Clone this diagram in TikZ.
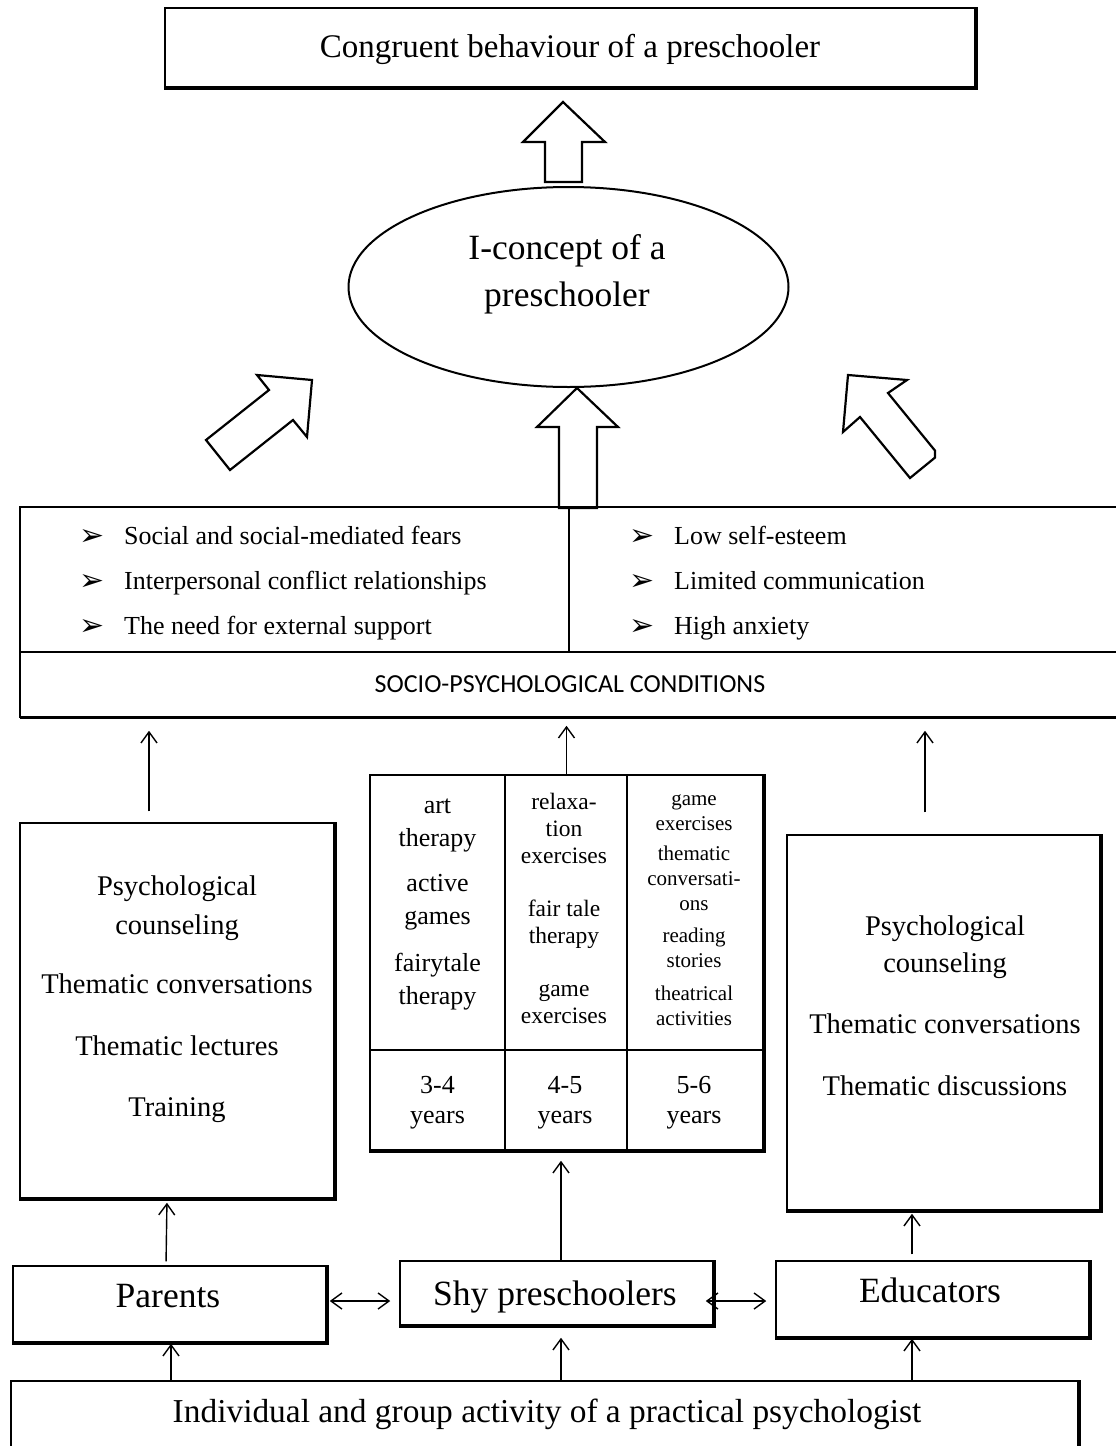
\documentclass[tikz,border=0pt]{standalone}
\usepackage{fontspec}
\setmainfont{Liberation Serif}
\newfontfamily\sansf{Carlito}
\newfontfamily\symf{DejaVu Sans}
\usetikzlibrary{arrows.meta,calc,shapes.geometric}
\newcommand\fsz[2]{\fontsize{#1}{#2}\selectfont}
\newcommand\stk[1]{\begin{tabular}[t]{@{}c@{}}#1\end{tabular}}
\newcommand\boxshadow[1]{\draw[line width=2.6pt] ([yshift=-0.6pt]#1.south west) -- ([xshift=0.6pt,yshift=-0.6pt]#1.south east) -- ([xshift=0.6pt]#1.north east);}
\begin{document}
\begin{tikzpicture}[x=1pt,y=-1pt,
  box/.style={draw, line width=1.5pt, inner sep=0pt, fill=white},
  txt/.style={anchor=base, inner sep=0pt, align=center},
  ltxt/.style={anchor=base west, inner sep=0pt},
  arr/.style={line width=1.4pt, -{Straight Barb[length=11pt,width=16pt]}},
  darr/.style={line width=1.4pt, {Straight Barb[length=11pt,width=16pt]}-{Straight Barb[length=11pt,width=16pt]}},
  blk/.style={draw, line width=2.2pt, fill=white, line join=miter},
  bul/.style={anchor=base, inner sep=0pt, font=\symf\fsz{30}{30}}]
\path[use as bounding box] (0,0) rectangle (1116,1446);
\clip (0,0) rectangle (1116,1446);

% top box
\node[box, minimum width=810pt, minimum height=79pt] (top) at (570,47.5) {};
\boxshadow{top}
\node[txt, font=\fsz{33}{40}] (toptxt) at (570,57) {Congruent behaviour of a preschooler};

% ellipse
\node[draw, ellipse, line width=2pt, minimum width=440pt, minimum height=200pt, inner sep=0pt] (ell) at (568.5,287) {};
\node[txt, font=\fsz{35.5}{47}] (elltxt) at (567,259) {\stk{I-concept of a\\preschooler}};

% block arrows
\draw[blk] (563,102) -- (605,142) -- (582,142) -- (582,182) -- (545,182) -- (545,142) -- (523,142) -- cycle;
\draw[blk] (577,388) -- (618,427) -- (597,427) -- (597,508) -- (559,508) -- (559,427) -- (537,427) -- cycle;
\draw[blk] (206,440) -- (269,390) -- (257,375) -- (312,380) -- (307,437) -- (293,420) -- (230,470) -- cycle;
\draw[blk] (848,375) -- (907,380) -- (888,393) -- (935,450.6) -- (935,457.6) -- (910,478) -- (860,417) -- (843,432) -- cycle;

% conditions
\node[box, fill=none, minimum width=1110pt, minimum height=145pt] (crow) at (575,579.5) {};
\draw[line width=1.6pt] (569,507) -- (569,652);
\draw[line width=3pt] (20,652) -- (1130,652);
\node[box, minimum width=1110pt, minimum height=65pt] (socio) at (575,684.5) {};
\draw[line width=2.6pt] (20,717.6) -- (1130,717.6);
\node[txt, font=\sansf\fsz{26}{30}] (sociotxt) at (570,692) {SOCIO-PSYCHOLOGICAL CONDITIONS};

\node[bul] (b1) at (92,545) {➢};
\node[bul] (b2) at (92,590) {➢};
\node[bul] (b3) at (92,635) {➢};
\node[bul] (b4) at (642,545) {➢};
\node[bul] (b5) at (642,590) {➢};
\node[bul] (b6) at (642,635) {➢};
\node[ltxt, font=\fsz{26}{30}] (c1) at (124,544) {Social and social-mediated fears};
\node[ltxt, font=\fsz{26}{30}] (c2) at (124,589) {Interpersonal conflict relationships};
\node[ltxt, font=\fsz{26}{30}] (c3) at (124,634) {The need for external support};
\node[ltxt, font=\fsz{26}{30}] (c4) at (674,544) {Low self-esteem};
\node[ltxt, font=\fsz{26}{30}] (c5) at (674,589) {Limited communication};
\node[ltxt, font=\fsz{26}{30}] (c6) at (674,634) {High anxiety};

% left box
\node[box, minimum width=314pt, minimum height=375pt] (lbox) at (177,1010.5) {};
\boxshadow{lbox}
\node[txt, font=\fsz{28.5}{39}] (ltext) at (177,895) {\stk{Psychological\\counseling\\[20pt]Thematic conversations\\[23pt]Thematic lectures\\[22pt]Training}};

% right box
\node[box, minimum width=313pt, minimum height=375pt] (rbox) at (943.5,1022.5) {};
\boxshadow{rbox}
\node[txt, font=\fsz{28.5}{37}] (rtext) at (945,935) {\stk{Psychological\\counseling\\[24pt]Thematic conversations\\[25pt]Thematic discussions}};

% table
\node[box, minimum width=393pt, minimum height=375pt] (tab) at (566.5,962.5) {};
\boxshadow{tab}
\draw[line width=2.6pt] (505,775) -- (505,1150);
\draw[line width=2.6pt] (627,775) -- (627,1150);
\draw[line width=1.5pt] (370,1050) -- (763,1050);
\node[txt, font=\fsz{26}{33.5}] (t1) at (437.5,813) {\stk{art\\therapy\\[11pt]active\\games\\[13pt]fairytale\\therapy}};
\node[txt, font=\fsz{23.5}{27}] (t2) at (564,809) {\stk{relaxa-\\tion\\exercises\\[26pt]fair tale\\therapy\\[26pt]game\\exercises}};
\node[txt, font=\fsz{21}{25}] (t3) at (694,805) {\stk{game\\exercises\\[5pt]thematic\\conversati-\\ons\\[7pt]reading\\stories\\[8pt]theatrical\\activities}};
\node[txt, font=\fsz{26}{30}] (y1) at (437.5,1093) {\stk{3-4\\years}};
\node[txt, font=\fsz{26}{30}] (y2) at (565,1093) {\stk{4-5\\years}};
\node[txt, font=\fsz{26}{30}] (y3) at (694,1093) {\stk{5-6\\years}};

% bottom row
\node[box, minimum width=313pt, minimum height=76pt] (par) at (169.5,1304) {};
\boxshadow{par}
\node[txt, font=\fsz{35.5}{40}] (partxt) at (168,1307) {Parents};
\node[box, minimum width=313pt, minimum height=64pt] (shy) at (556.5,1293) {};
\boxshadow{shy}
\node[txt, font=\fsz{35.5}{40}] (shytxt) at (555,1305) {Shy preschoolers};
\node[box, minimum width=313pt, minimum height=76pt] (edu) at (932.5,1299) {};
\boxshadow{edu}
\node[txt, font=\fsz{35.5}{40}] (edutxt) at (930,1302) {Educators};
\node[box, minimum width=1067pt, minimum height=89pt] (act) at (544.5,1425.5) {};
\boxshadow{act}
\node[txt, font=\fsz{33.4}{40}] (acttxt) at (547,1422) {Individual and group activity of a practical psychologist};

% connectors
\draw[arr, shorten <=11pt, shorten >=13pt] ([xshift=-28pt]lbox.north) -- ([xshift=-28pt]lbox.north |- socio.south);
\draw[arr, shorten >=8pt] (tab.north) -- (tab.north |- socio.south);
\draw[arr, shorten <=22pt, shorten >=13pt] ([xshift=-18.5pt]rbox.north) -- ([xshift=-18.5pt]rbox.north |- socio.south);

\draw[arr, shorten <=4pt, shorten >=4pt] ([xshift=-3.5pt]par.north) -- ([xshift=-10pt]lbox.south);
\draw[arr, shorten >=10pt] ([xshift=4.5pt]shy.north) -- ([xshift=-5.5pt]tab.south);
\draw[arr, shorten <=6pt, shorten >=3pt] ([xshift=-20.5pt]edu.north) -- ([xshift=-31.5pt]rbox.south);

\draw[arr, shorten >=1pt] ([xshift=1.5pt]par.south |- act.north) -- ([xshift=1.5pt]par.south);
\draw[arr, shorten >=12pt] ([xshift=4.5pt]shy.south |- act.north) -- ([xshift=4.5pt]shy.south);
\draw[arr, shorten >=1pt] ([xshift=-20.5pt]edu.south |- act.north) -- ([xshift=-20.5pt]edu.south);

\draw[darr, shorten <=3pt, shorten >=9pt] ([yshift=3pt]par.east) -- ([yshift=3pt]par.east -| shy.west);
\draw[darr, shorten <=-8pt, shorten >=9pt] ([yshift=-8pt]shy.east) -- ([yshift=-8pt]shy.east -| edu.west);
\end{tikzpicture}
\end{document}
